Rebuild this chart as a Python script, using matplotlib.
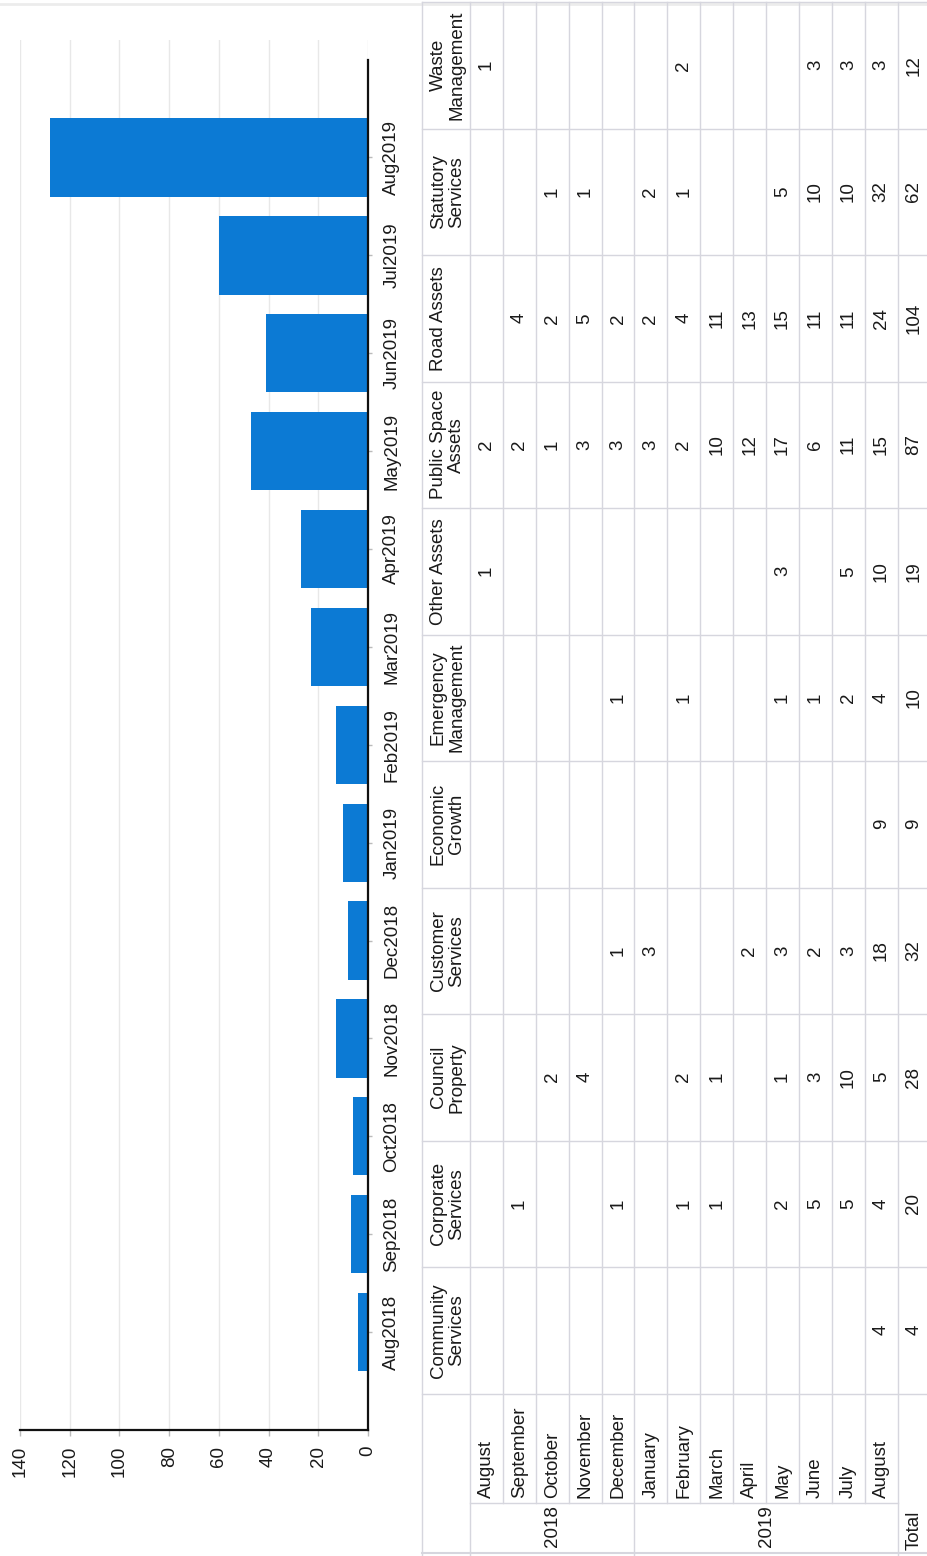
import matplotlib.pyplot as plt

plt.rcParams['font.family'] = ['Liberation Sans', 'DejaVu Sans']

# bar chart data (months bottom to top)
bar_months = ["Aug2018", "Sep2018", "Oct2018", "Nov2018", "Dec2018", "Jan2019", "Feb2019",
              "Mar2019", "Apr2019", "May2019", "Jun2019", "Jul2019", "Aug2019"]
bar_counts = [4, 7, 6, 13, 8, 10, 13, 23, 27, 47, 41, 60, 128]
value_ticks = [0, 20, 40, 60, 80, 100, 120, 140]

# table data
row_months = ["August", "September", "October", "November", "December", "January",
              "February", "March", "April", "May", "June", "July", "August"]
row_years = ["2018", "2019"]
year_spans = [5, 8]
col_headers = ["Community\nServices", "Corporate\nServices", "Council\nProperty",
               "Customer\nServices", "Economic\nGrowth", "Emergency\nManagement",
               "Other Assets", "Public Space\nAssets", "Road Assets",
               "Statutory\nServices", "Waste\nManagement"]

n = None
community = [n, n, n, n, n, n, n, n, n, n, n, n, 4]
corporate = [n, 1, n, n, 1, n, 1, 1, n, 2, 5, 5, 4]
council = [n, n, 2, 4, n, n, 2, 1, n, 1, 3, 10, 5]
customer = [n, n, n, n, 1, 3, n, n, 2, 3, 2, 3, 18]
economic = [n, n, n, n, n, n, n, n, n, n, n, n, 9]
emergency = [n, n, n, n, 1, n, 1, n, n, 1, 1, 2, 4]
other_assets = [1, n, n, n, n, n, n, n, n, 3, n, 5, 10]
public_space = [2, 2, 1, 3, 3, 3, 2, 10, 12, 17, 6, 11, 15]
road_assets = [n, 4, 2, 5, 2, 2, 4, 11, 13, 15, 11, 11, 24]
statutory = [n, n, 1, 1, n, 2, 1, n, n, 5, 10, 10, 32]
waste = [1, n, n, n, n, n, 2, n, n, n, 3, 3, 3]
columns = [community, corporate, council, customer, economic, emergency,
           other_assets, public_space, road_assets, statutory, waste]

W, H = 928, 1556
BLUE = '#0c7ad4'
TXT = '#1a1a1a'
LINE = '#d6d6de'
FS = 13.5

fig = plt.figure(figsize=(W / 100, H / 100), dpi=100)

# ---- table (drawn in pixel coordinates of the page) ----
tab = fig.add_axes([0, 0, 1, 1])
tab.set_xlim(0, W)
tab.set_ylim(H, 0)
tab.axis('off')

x_left, x_head, row_h = 422, 470, 32.9
y_top, col_w, y_label, y_year = 2, 126.5, 1393.5, 1503

row_edges = [x_head + row_h * i for i in range(len(row_months) + 1)]
col_edges = [y_label - col_w * k for k in range(len(columns) + 1)]
group_edges = [0, year_spans[0], year_spans[0] + year_spans[1]]

tab.plot([0, W], [4, 4], color='#ececec', lw=2)
for y in col_edges:
    tab.plot([x_left, W], [y, y], color=LINE, lw=1)
tab.plot([x_left, x_left], [y_top, H], color=LINE, lw=1)
for i, x in enumerate(row_edges):
    y_end = H if i in group_edges else y_year
    tab.plot([x, x], [y_top, y_end], color=LINE, lw=1)
tab.plot([x_head, row_edges[-1]], [y_year, y_year], color=LINE, lw=1)
tab.plot([x_left, W], [H - 3, H - 3], color=LINE, lw=1.5)

for k, (head, vals) in enumerate(zip(col_headers, columns)):
    yc = y_label - col_w * (k + 0.5)
    tab.text(x_left + 8, yc, head, rotation=90, rotation_mode='anchor',
             ha='center', va='top', multialignment='center', fontsize=FS, color=TXT,
             linespacing=1.08)
    for i, v in enumerate(vals):
        if v is not None:
            xc = x_head + row_h * (i + 0.5)
            tab.text(xc, yc, str(v), rotation=90, rotation_mode='anchor',
                     ha='center', va='center', fontsize=FS, color=TXT)
    total = sum(v for v in vals if v is not None)
    tab.text(row_edges[-1] + 16, yc, str(total), rotation=90, rotation_mode='anchor',
             ha='center', va='center', fontsize=FS, color=TXT)

for i, m in enumerate(row_months):
    xc = x_head + row_h * (i + 0.5)
    tab.text(xc, 1498, m, rotation=90, rotation_mode='anchor',
             ha='left', va='center', fontsize=FS, color=TXT)

for g, yr in enumerate(row_years):
    xc = (row_edges[group_edges[g]] + row_edges[group_edges[g + 1]]) / 2
    tab.text(xc, 1547, yr, rotation=90, rotation_mode='anchor',
             ha='left', va='center', fontsize=FS, color=TXT)
tab.text(row_edges[-1] + 16, 1550, "Total", rotation=90, rotation_mode='anchor',
         ha='left', va='center', fontsize=FS, color=TXT)

# ---- bar chart ----
ax = fig.add_axes([20 / W, 1 - 1430 / H, (368 - 20) / W, (1430 - 40) / H])
pos = list(range(len(bar_months)))
ax.barh(pos, bar_counts, height=0.8, color=BLUE, zorder=2)
ax.set_xlim(140, 0)
ax.set_ylim(-1, 13.2)

ax.set_xticks(value_ticks)
ax.set_xticklabels([str(v) for v in value_ticks], rotation=90)
ax.yaxis.tick_right()
ax.set_yticks(pos)
ax.set_yticklabels(bar_months, rotation=90, va='center')
ax.tick_params(axis='x', length=4.5, width=1, color='#bbbbbb', pad=7,
               labelsize=FS, labelcolor=TXT)
ax.tick_params(axis='y', length=3, width=1, color='#bbbbbb', pad=8,
               labelsize=FS, labelcolor=TXT)

ax.grid(axis='x', color='#e8e8e8', lw=1)
ax.set_axisbelow(True)
for s in ['top', 'left']:
    ax.spines[s].set_visible(False)
ax.spines['bottom'].set_linewidth(1.6)
ax.spines['right'].set_linewidth(1.6)
ax.spines['right'].set_bounds(-1, 13)
ax.spines['bottom'].set_color('#111111')
ax.spines['right'].set_color('#111111')

fig.savefig('out.png', dpi=100)
